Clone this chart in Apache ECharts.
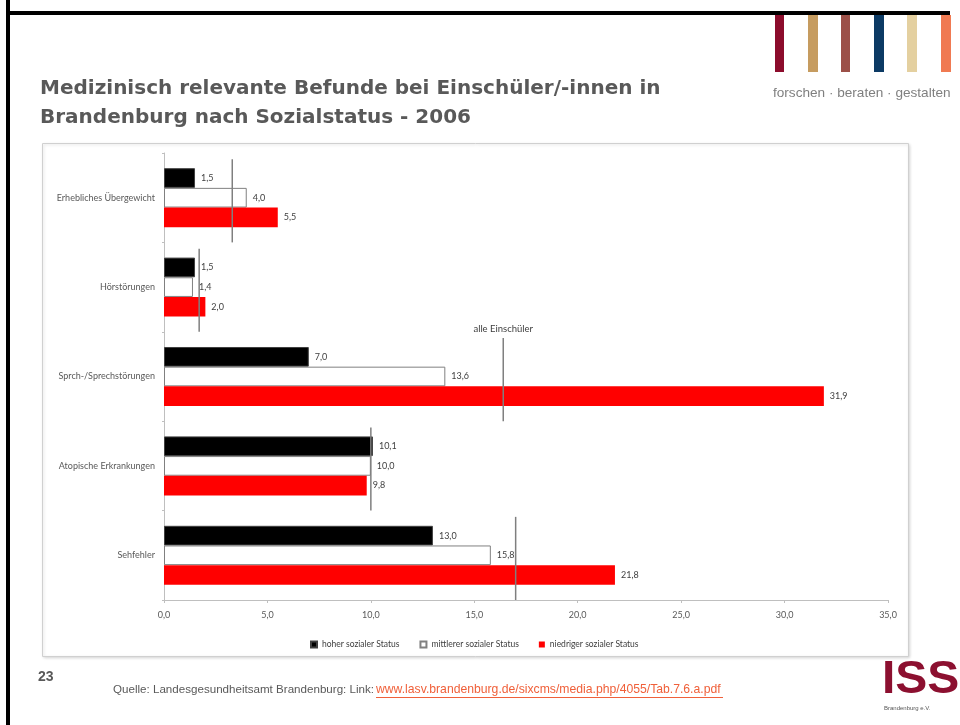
<!DOCTYPE html>
<html>
<head>
<meta charset="utf-8">
<title>Befunde Einschüler Brandenburg</title>
<script src="https://cdn.jsdelivr.net/npm/echarts@6/dist/echarts.min.js"></script>
<style>
  html, body { margin: 0; padding: 0; background: #fff; }
  #main { width: 960px; height: 725px; }
</style>
</head>
<body>
<div id="main"></div>
<script>
var categories = ['Erhebliches Übergewicht', 'Hörstörungen', 'Sprch-/Sprechstörungen', 'Atopische Erkrankungen', 'Sehfehler'];
var seriesNames = ['hoher sozialer Status', 'mittlerer sozialer Status', 'niedriger sozialer Status'];
var hoher = [1.5, 1.5, 7.0, 10.1, 13.0];
var mittlerer = [4.0, 1.4, 13.6, 10.0, 15.8];
var niedriger = [5.5, 2.0, 31.9, 9.8, 21.8];
// Wert "alle Einschüler" je Befund (senkrechte Linie)
var alle = [3.3, 1.7, 16.4, 10.0, 17.0];
var noteText = 'alle Einschüler';
var noteIndex = 2;
var xTicks = [0, 35, 5]; // min, max, interval

var myChart = echarts.init(document.getElementById('main'));
var font = 'Lato, "Open Sans", sans-serif';
var grey = '#595959';

function fmt(v) {
    return v.toFixed(1).replace('.', ',');
}

function barSeries(name, data, color, border) {
    return {
        name: name,
        type: 'bar',
        data: data,
        barGap: '0%',
        barCategoryGap: '34%',
        itemStyle: {
            color: color,
            borderColor: border,
            borderWidth: border ? 1 : 0
        },
        label: {
            show: true,
            position: 'right',
            distance: 6,
            fontFamily: font,
            fontSize: 9,
            color: '#404040',
            formatter: function (p) { return fmt(p.value); }
        },
        animation: false
    };
}

var lineData = alle.map(function (v, i) { return [v, categories[i]]; });

var option = {
    backgroundColor: '#fff',
    textStyle: { fontFamily: font },
    title: {
        text: 'Medizinisch relevante Befunde bei Einschüler/-innen in\nBrandenburg nach Sozialstatus - 2006',
        left: 40,
        top: 74,
        padding: 0,
        textStyle: {
            fontFamily: '"DejaVu Sans", sans-serif',
            fontSize: 20,
            fontWeight: 'bold',
            color: grey,
            lineHeight: 29
        }
    },
    legend: {
        data: seriesNames,
        left: 305,
        top: 635,
        icon: 'rect',
        itemWidth: 6,
        itemHeight: 6,
        itemGap: 20,
        textStyle: { fontSize: 8.5, color: '#404040', fontFamily: font }
    },
    grid: { left: 164, right: 72, top: 153, bottom: 125, containLabel: false },
    xAxis: {
        type: 'value',
        min: xTicks[0],
        max: xTicks[1],
        interval: xTicks[2],
        axisLine: { show: true, lineStyle: { color: '#bfbfbf' } },
        axisTick: { show: true, length: 3, lineStyle: { color: '#bfbfbf' } },
        splitLine: { show: false },
        axisLabel: {
            margin: 11,
            fontSize: 9,
            color: grey,
            fontFamily: font,
            formatter: function (v) { return fmt(v); }
        }
    },
    yAxis: {
        type: 'category',
        data: categories,
        inverse: true,
        axisLine: { lineStyle: { color: '#bfbfbf' } },
        axisTick: { show: true, length: 2, lineStyle: { color: '#bfbfbf' } },
        axisLabel: { margin: 9, fontSize: 9, color: grey, fontFamily: font }
    },
    graphic: [
        // Rahmen links und oben
        { type: 'rect', shape: { x: 6, y: 0, width: 4, height: 725 }, style: { fill: '#000' } },
        { type: 'rect', shape: { x: 6, y: 11, width: 944, height: 4 }, style: { fill: '#000' } },
        // Diagrammrahmen
        {
            type: 'rect', z: -10,
            shape: { x: 42.5, y: 143.5, width: 866, height: 513 },
            style: { fill: '#fff', stroke: '#d0d0d0', lineWidth: 1, shadowBlur: 3, shadowColor: 'rgba(0,0,0,0.15)', shadowOffsetX: 1, shadowOffsetY: 1 }
        },
        // Logo oben rechts
        { type: 'rect', shape: { x: 775, y: 15, width: 9, height: 57 }, style: { fill: '#8c0c2c' } },
        { type: 'rect', shape: { x: 808, y: 15, width: 10, height: 57 }, style: { fill: '#c69c60' } },
        { type: 'rect', shape: { x: 841, y: 15, width: 9, height: 57 }, style: { fill: '#9c5048' } },
        { type: 'rect', shape: { x: 874, y: 15, width: 10, height: 57 }, style: { fill: '#0c3a64' } },
        { type: 'rect', shape: { x: 907, y: 15, width: 10, height: 57 }, style: { fill: '#e4d0a0' } },
        { type: 'rect', shape: { x: 941, y: 15, width: 10, height: 57 }, style: { fill: '#f07a52' } },
        {
            type: 'text', x: 773, y: 93,
            style: { text: 'forschen · beraten · gestalten', fill: '#7f7f7f', font: '13.6px "Liberation Sans Narrow", "Liberation Sans", sans-serif', textVerticalAlign: 'middle' }
        },
        // Fußzeile
        {
            type: 'text', x: 38, y: 677,
            style: { text: '23', fill: grey, font: 'bold 14px "Liberation Sans", Arial, sans-serif', textVerticalAlign: 'middle' }
        },
        {
            type: 'text', x: 113, y: 690,
            style: { text: 'Quelle: Landesgesundheitsamt Brandenburg: Link: ', fill: '#595959', font: '11.6px "Liberation Sans", Arial, sans-serif', textVerticalAlign: 'middle' }
        },
        {
            type: 'text', x: 376, y: 690,
            style: { text: 'www.lasv.brandenburg.de/sixcms/media.php/4055/Tab.7.6.a.pdf', fill: '#f0603a', font: '12.2px "Liberation Sans", Arial, sans-serif', textVerticalAlign: 'middle' }
        },
        { type: 'line', shape: { x1: 376, y1: 697.5, x2: 723, y2: 697.5 }, style: { stroke: '#f0603a', lineWidth: 1 } },
        // ISS-Logo
        {
            type: 'text', x: 882, y: 680, scaleX: 1.2, scaleY: 1.15,
            style: { text: 'ISS', fill: '#8c1030', font: 'bold 40px "Liberation Sans", Arial, sans-serif', textVerticalAlign: 'middle' }
        },
        {
            type: 'text', x: 884, y: 708,
            style: { text: 'Brandenburg e.V.', fill: '#555', font: '6px "Liberation Sans", Arial, sans-serif', textVerticalAlign: 'middle' }
        }
    ],
    series: [
        barSeries(seriesNames[0], hoher, '#000000', '#404040'),
        barSeries(seriesNames[1], mittlerer, '#ffffff', '#808080'),
        barSeries(seriesNames[2], niedriger, '#ff0000', null),
        {
            name: 'alle Einschüler',
            type: 'custom',
            data: lineData,
            encode: { x: 0, y: 1 },
            z: 5,
            animation: false,
            renderItem: function (params, api) {
                var p = api.coord([api.value(0), api.value(1)]);
                var h = api.size([0, 1])[1];
                var children = [{
                    type: 'line',
                    shape: { x1: p[0], y1: p[1] - h * 0.43, x2: p[0], y2: p[1] + h * 0.5 },
                    style: { stroke: '#7f7f7f', lineWidth: 1.5 }
                }];
                if (params.dataIndex === noteIndex) {
                    children.push({
                        type: 'text',
                        style: {
                            text: noteText, x: p[0], y: p[1] - h * 0.43 - 9,
                            textAlign: 'center', textVerticalAlign: 'middle',
                            font: '9.5px Lato, sans-serif', fill: '#404040'
                        }
                    });
                }
                return { type: 'group', children: children };
            }
        }
    ]
};
myChart.setOption(option);
</script>
</body>
</html>
